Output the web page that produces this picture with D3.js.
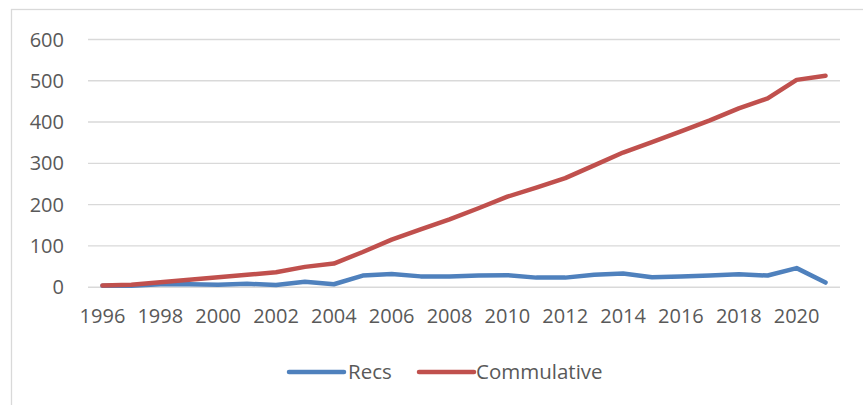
<!DOCTYPE html>
<html>
<head>
<meta charset="utf-8">
<script src="https://cdn.jsdelivr.net/npm/d3@7"></script>
<style>
  html, body { margin: 0; padding: 0; background: #fff; }
  svg { display: block; }
  text { font-family: "Open Sans", "Liberation Sans", sans-serif; fill: #595959; }
</style>
</head>
<body>
<svg id="chart" width="863" height="405"></svg>
<script>
const years = [1996,1997,1998,1999,2000,2001,2002,2003,2004,2005,2006,2007,2008,2009,2010,2011,2012,2013,2014,2015,2016,2017,2018,2019,2020,2021];
const recs = [2,2,6,6,5,7,4,12,6,27,31,25,25,27,28,22,22,29,32,23,25,27,30,27,45,10];
const cumulative = [3,5,11,17,23,29,35,48,56,84,114,139,163,190,218,240,263,294,325,350,376,403,432,456,501,511];
const yTicks = [0,100,200,300,400,500,600];
const xTickLabels = ["1996","1998","2000","2002","2004","2006","2008","2010","2012","2014","2016","2018","2020"];
const seriesNames = ["Recs","Commulative"];
const seriesColors = ["#4f81bd","#c0504d"];

const svg = d3.select("#chart");
const plot = {left: 88, right: 840, top: 39, bottom: 286.7};

// chart border (only left & top visible in the crop)
svg.append("rect")
  .attr("x", 11.5).attr("y", 9.5).attr("width", 1000).attr("height", 1000)
  .attr("fill", "none").attr("stroke", "#d9d9d9").attr("stroke-width", 1.3);

const x = d3.scaleBand().domain(years.map(String)).range([plot.left, plot.right]);
const y = d3.scaleLinear().domain([0, 600]).range([plot.bottom, plot.top]);
const cx = d => x(String(d)) + x.bandwidth() / 2;

// gridlines
const grid = svg.append("g")
  .attr("transform", `translate(${plot.left},0)`)
  .call(d3.axisLeft(y).tickValues(yTicks).tickSize(-(plot.right - plot.left)).tickFormat(""));
grid.select(".domain").remove();
grid.selectAll("line").attr("stroke", "#d9d9d9").attr("stroke-width", 1.4);

// y labels
const yAx = svg.append("g")
  .attr("transform", `translate(${plot.left - 24},0)`)
  .call(d3.axisLeft(y).tickValues(yTicks).tickSize(0).tickPadding(0));
yAx.select(".domain").remove();
yAx.selectAll("text").attr("font-size", 20).style("font-family", "'Open Sans', sans-serif").attr("fill", "#595959").attr("dy", "0.35em");

// x labels
const xAx = svg.append("g")
  .attr("transform", `translate(0,${plot.bottom})`)
  .call(d3.axisBottom(x).tickValues(xTickLabels).tickSize(0).tickPadding(0));
xAx.select(".domain").remove();
xAx.selectAll("text").attr("font-size", 20).style("font-family", "'Open Sans', sans-serif").attr("fill", "#595959").attr("y", 36.5).attr("dy", 0);

// lines
const line = d3.line().x((d, i) => cx(years[i])).y(d => y(d));
[recs, cumulative].forEach((s, k) => {
  svg.append("path")
    .datum(s)
    .attr("d", line)
    .attr("fill", "none")
    .attr("stroke", seriesColors[k])
    .attr("stroke-width", 4.5)
    .attr("stroke-linejoin", "round")
    .attr("stroke-linecap", "round");
});

// legend
const legendItems = [{x1: 289, x2: 344, tx: 348}, {x1: 419, x2: 474, tx: 476}];
const ly = 372;
legendItems.forEach((it, k) => {
  svg.append("line")
    .attr("x1", it.x1).attr("x2", it.x2).attr("y1", ly).attr("y2", ly)
    .attr("stroke", seriesColors[k]).attr("stroke-width", 4.5).attr("stroke-linecap", "round");
  svg.append("text")
    .attr("x", it.tx).attr("y", ly).attr("dy", "0.35em")
    .attr("font-size", 20.5)
    .text(seriesNames[k]);
});
</script>
</body>
</html>
